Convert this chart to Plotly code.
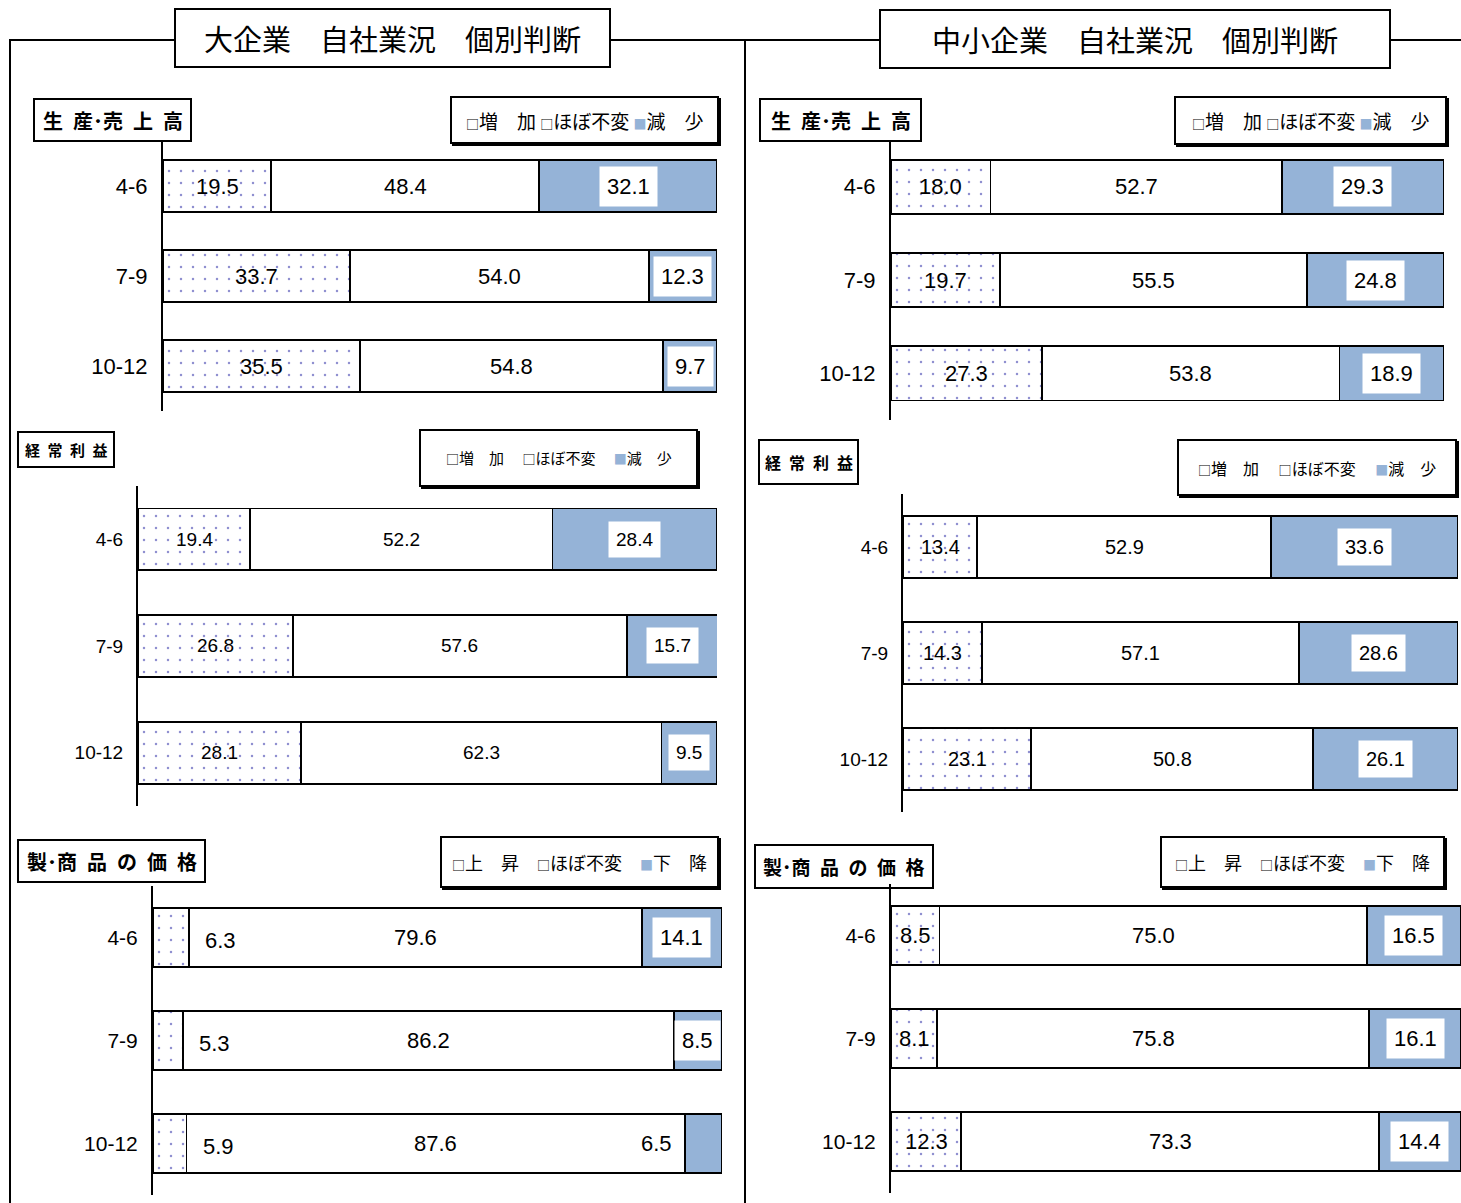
import plotly.graph_objects as go

W, H = 1461, 1203

# ---------------- data ----------------
periods = ["4-6", "7-9", "10-12"]

large_sales_inc = [19.5, 33.7, 35.5]
large_sales_same = [48.4, 54.0, 54.8]
large_sales_dec = [32.1, 12.3, 9.7]

large_profit_inc = [19.4, 26.8, 28.1]
large_profit_same = [52.2, 57.6, 62.3]
large_profit_dec = [28.4, 15.7, 9.5]

large_price_inc = [6.3, 5.3, 5.9]
large_price_same = [79.6, 86.2, 87.6]
large_price_dec = [14.1, 8.5, 6.5]

small_sales_inc = [18.0, 19.7, 27.3]
small_sales_same = [52.7, 55.5, 53.8]
small_sales_dec = [29.3, 24.8, 18.9]

small_profit_inc = [13.4, 14.3, 23.1]
small_profit_same = [52.9, 57.1, 50.8]
small_profit_dec = [33.6, 28.6, 26.1]

small_price_inc = [8.5, 8.1, 12.3]
small_price_same = [75.0, 75.8, 73.3]
small_price_dec = [16.5, 16.1, 14.4]

titles = ["大企業　自社業況　個別判断", "中小企業　自社業況　個別判断"]
section_labels = ["生\u2002産･売\u2002上\u2002高", "経\u2002常\u2002利\u2002益",
                  "製･商\u2002品\u2002の\u2002価\u2002格"]
legend_sales = ["増　加", "ほぼ不変", "減　少"]
legend_price = ["上　昇", "ほぼ不変", "下　降"]

BLUE = "#95B3D7"
DOT = "#1F1FA0"
NUM_FONT = "Liberation Sans Narrow, Liberation Sans, Noto Sans CJK JP"
JP_FONT = "Noto Sans CJK JP"


def X(px):
    return px / W


def Y(py):
    return 1 - py / H


panels = [
    dict(inc=large_sales_inc, same=large_sales_same, dec=large_sales_dec,
         box=(163, 717, 141, 411), fs=22, tfs=22),
    dict(inc=large_profit_inc, same=large_profit_same, dec=large_profit_dec,
         box=(138, 717, 486, 806), fs=19, tfs=19),
    dict(inc=large_price_inc, same=large_price_same, dec=large_price_dec,
         box=(153, 722, 886, 1195), fs=22, tfs=21),
    dict(inc=small_sales_inc, same=small_sales_same, dec=small_sales_dec,
         box=(891, 1444, 140, 420), fs=22, tfs=22),
    dict(inc=small_profit_inc, same=small_profit_same, dec=small_profit_dec,
         box=(903, 1458, 494, 812), fs=20, tfs=19),
    dict(inc=small_price_inc, same=small_price_same, dec=small_price_dec,
         box=(891, 1461, 884, 1193), fs=22, tfs=21),
]

fig = go.Figure()
annotations = []
shapes = []

for i, p in enumerate(panels, start=1):
    xa = "x" if i == 1 else f"x{i}"
    ya = "y" if i == 1 else f"y{i}"
    x0, x1, yt, yb = p["box"]
    line = dict(color="black", width=1.8)
    fig.add_trace(go.Bar(
        y=periods, x=p["inc"], orientation="h", xaxis=xa, yaxis=ya,
        marker=dict(color="white", line=line,
                    pattern=dict(shape=".", fgcolor=DOT, bgcolor="white",
                                 size=12, solidity=0.035, fillmode="overlay")),
        showlegend=False, hoverinfo="skip"))
    fig.add_trace(go.Bar(
        y=periods, x=p["same"], orientation="h", xaxis=xa, yaxis=ya,
        marker=dict(color="white", line=line),
        showlegend=False, hoverinfo="skip"))
    fig.add_trace(go.Bar(
        y=periods, x=p["dec"], orientation="h", xaxis=xa, yaxis=ya,
        marker=dict(color=BLUE, line=line),
        showlegend=False, hoverinfo="skip"))

    lay_x = "xaxis" if i == 1 else f"xaxis{i}"
    lay_y = "yaxis" if i == 1 else f"yaxis{i}"
    fig.update_layout(**{
        lay_x: dict(domain=[X(x0), min(X(x1), 1.0)], range=[0, 100],
                    showgrid=False, zeroline=False, showline=False,
                    showticklabels=False, anchor=ya, fixedrange=True),
        lay_y: dict(domain=[Y(yb), Y(yt)], type="category",
                    categoryorder="array", categoryarray=periods,
                    autorange="reversed",
                    showgrid=False, zeroline=False, showline=True,
                    linecolor="black", linewidth=2, ticks="",
                    ticklabelstandoff=9,
                    tickfont=dict(family=NUM_FONT, size=p["tfs"], color="black"),
                    anchor=xa, fixedrange=True),
    })

    fs = p["fs"]
    tf = dict(family=NUM_FONT, size=fs, color="black")
    for k, per in enumerate(periods):
        a, b, c = p["inc"][k], p["same"][k], p["dec"][k]
        if a < 7:
            annotations.append(dict(x=a + 2.5, y=per, xref=xa, yref=ya,
                                    text=f"{a:.1f}", showarrow=False,
                                    xanchor="left", yanchor="middle",
                                    font=tf, yshift=-3))
        else:
            annotations.append(dict(x=a / 2, y=per, xref=xa, yref=ya,
                                    text=f"{a:.1f}", showarrow=False,
                                    xanchor="center", yanchor="middle",
                                    font=tf))
        annotations.append(dict(x=a + b / 2, y=per, xref=xa, yref=ya,
                                text=f"{b:.1f}", showarrow=False,
                                xanchor="center", yanchor="middle", font=tf))
        if c < 7:
            annotations.append(dict(x=a + b - 2.0, y=per, xref=xa, yref=ya,
                                    text=f"{c:.1f}", showarrow=False,
                                    xanchor="right", yanchor="middle",
                                    font=tf))
        else:
            annotations.append(dict(x=a + b + c / 2, y=per, xref=xa, yref=ya,
                                    text=f"{c:.1f}", showarrow=False,
                                    xanchor="center", yanchor="middle",
                                    bgcolor="white", borderpad=7, font=tf))


def rect(x0, y0, x1, y1, w=2, shadow=False):
    if shadow:
        shapes.append(dict(type="rect", xref="paper", yref="paper",
                           x0=X(x0 + 2), x1=X(x1 + 2), y0=Y(y1 + 2), y1=Y(y0 + 2),
                           line=dict(color="black", width=w), fillcolor="black",
                           layer="below"))
    shapes.append(dict(type="rect", xref="paper", yref="paper",
                       x0=X(x0), x1=X(x1), y0=Y(y1), y1=Y(y0),
                       line=dict(color="black", width=w), fillcolor="white",
                       layer="below"))


def hline(x0, x1, y, w=2):
    shapes.append(dict(type="line", xref="paper", yref="paper",
                       x0=X(x0), x1=X(x1), y0=Y(y), y1=Y(y),
                       line=dict(color="black", width=w), layer="below"))


def vline(x, y0, y1, w=2):
    shapes.append(dict(type="line", xref="paper", yref="paper",
                       x0=X(x), x1=X(x), y0=Y(y0), y1=Y(y1),
                       line=dict(color="black", width=w), layer="below"))


def text(xc, yc, s, size, family=JP_FONT, bold=False):
    annotations.append(dict(x=X(xc), y=Y(yc), xref="paper", yref="paper",
                            xanchor="center", yanchor="middle",
                            text=f"<b>{s}</b>" if bold else s,
                            showarrow=False,
                            font=dict(family=family, size=size, color="black")))


# outer frames
hline(10, 175, 40)
hline(610, 745, 40)
vline(10, 39, 1203)
vline(745, 39, 1203)
hline(745, 880, 40)
hline(1390, 1461, 40)

# title boxes
rect(175, 9, 610, 67)
text(392, 38, titles[0], 29)
rect(880, 10, 1390, 68)
text(1135, 39, titles[1], 29)

# section label boxes
for (bx0, by0, bx1, by1, lbl, sz) in [
    (34, 99, 191, 141, section_labels[0], 20),
    (18, 432, 114, 467, section_labels[1], 15),
    (18, 840, 205, 882, section_labels[2], 20),
    (760, 99, 921, 141, section_labels[0], 20),
    (759, 440, 858, 484, section_labels[1], 16),
    (755, 845, 933, 888, section_labels[2], 19),
]:
    rect(bx0, by0, bx1, by1)
    text((bx0 + bx1) / 2, (by0 + by1) / 2, lbl, sz, bold=True)


def legend_text(items, gap):
    sq = '<span style="font-size:13px">□</span>'
    sqb = f'<span style="font-size:13px;color:{BLUE}">■</span>'
    return (sq + items[0] + gap + sq + items[1] + gap + sqb + items[2])


for (bx0, by0, bx1, by1, items, sz, gap) in [
    (451, 97, 718, 143, legend_sales, 19, " "),
    (420, 430, 697, 486, legend_sales, 15, "　 "),
    (441, 837, 718, 887, legend_price, 18, "　"),
    (1175, 97, 1446, 144, legend_sales, 19, " "),
    (1178, 440, 1456, 495, legend_sales, 16, "　 "),
    (1161, 837, 1444, 887, legend_price, 18, "　"),
]:
    rect(bx0, by0, bx1, by1, shadow=True)
    text((bx0 + bx1) / 2, (by0 + by1) / 2, legend_text(items, gap), sz)

fig.update_layout(
    width=W, height=H, autosize=False,
    margin=dict(l=0, r=0, t=0, b=0),
    paper_bgcolor="white", plot_bgcolor="rgba(0,0,0,0)",
    barmode="stack", bargap=0.42,
    annotations=annotations, shapes=shapes,
    font=dict(family=JP_FONT, color="black"),
)

fig.write_html("out.html")
